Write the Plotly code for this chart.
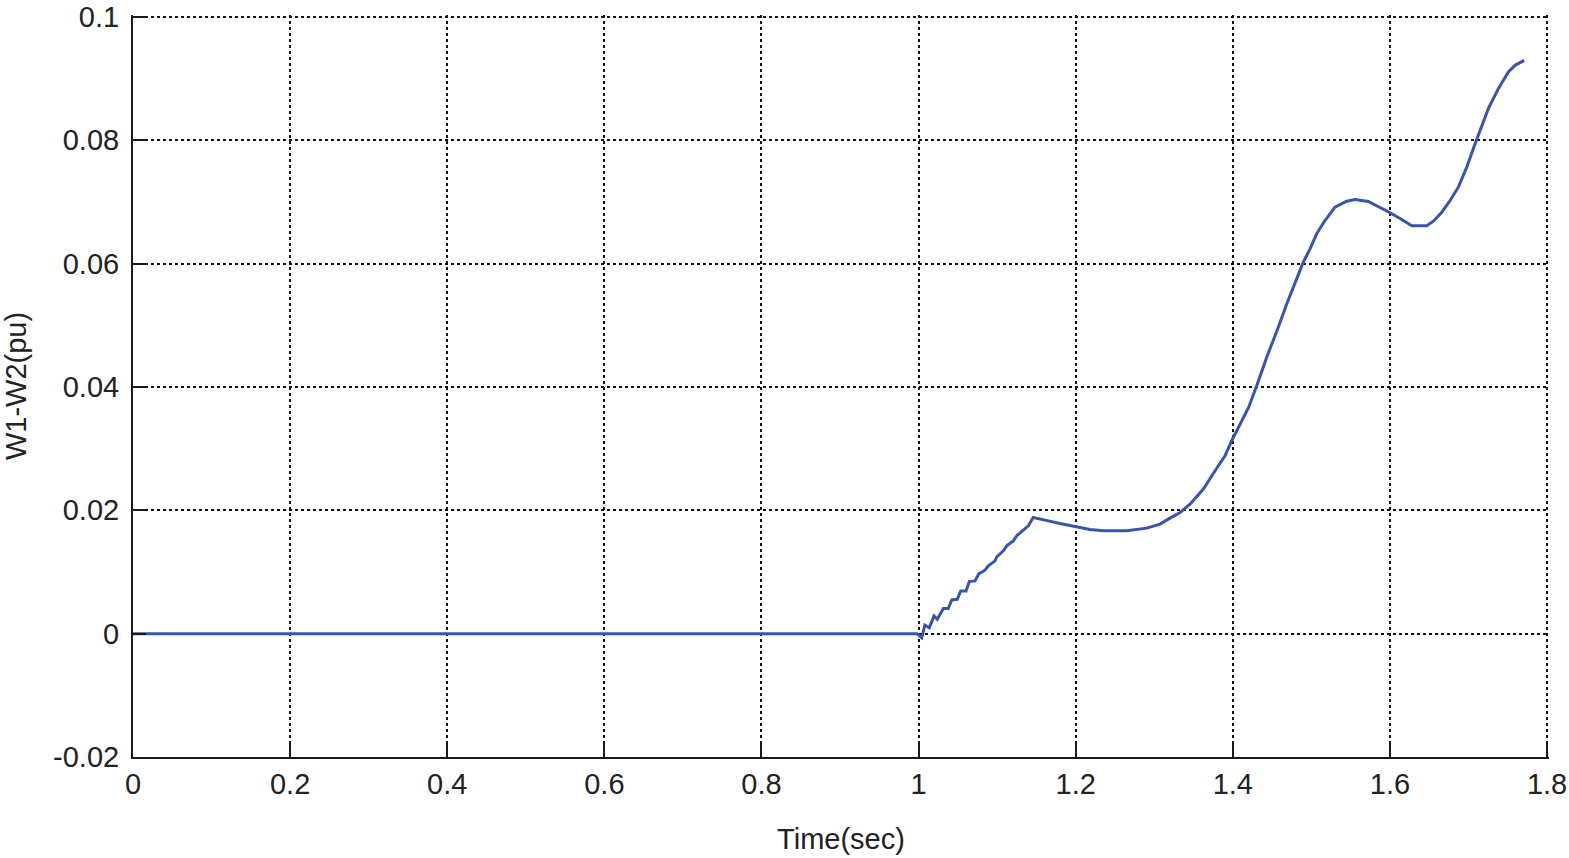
import plotly.graph_objects as go

# flat part, then the response after t = 1 s
t_flat = [0.0, 0.25, 0.5, 0.75, 0.998]
w_flat = [0.0, 0.0, 0.0, 0.0, 0.0]

t_resp = [
    1.004, 1.008, 1.0137, 1.0197, 1.0238, 1.0315, 1.0378, 1.0422, 1.0493,
    1.0536, 1.0604, 1.0646, 1.0718, 1.0769, 1.0846, 1.0888, 1.0973, 1.0995,
    1.1079, 1.1122, 1.1206, 1.1249, 1.1333, 1.1397, 1.146, 1.1504, 1.1609,
    1.18, 1.2013, 1.2182, 1.2352, 1.2649, 1.2904, 1.3073, 1.3201, 1.3328,
    1.3455, 1.3625, 1.3774, 1.3901, 1.3986, 1.4092, 1.4201, 1.4304, 1.4432,
    1.4579, 1.4686, 1.4813, 1.4897, 1.4983, 1.5068, 1.5173, 1.5301, 1.545,
    1.5556, 1.5725, 1.5874, 1.6002, 1.6171, 1.6278, 1.6469, 1.6553, 1.666,
    1.6766, 1.6871, 1.6978, 1.7084, 1.7148, 1.7253, 1.738, 1.7508, 1.7593,
    1.7708,
]
w_resp = [
    -0.00065, 0.00141, 0.00097, 0.00287, 0.00234, 0.00406, 0.00406, 0.00547,
    0.00558, 0.00693, 0.00693, 0.00844, 0.00855, 0.00974, 0.01029, 0.01099,
    0.0118, 0.01245, 0.01343, 0.01424, 0.01505, 0.01586, 0.01679, 0.01748,
    0.01883, 0.01867, 0.01841, 0.01786, 0.01732, 0.01688, 0.01667, 0.01667,
    0.01711, 0.01776, 0.01873, 0.01964, 0.021, 0.02344, 0.02641, 0.02885,
    0.03128, 0.03399, 0.03669, 0.04021, 0.04481, 0.04968, 0.05347, 0.05753,
    0.06023, 0.0624, 0.06484, 0.067, 0.06916, 0.07013, 0.0704, 0.07008,
    0.06916, 0.06825, 0.067, 0.06614, 0.06614, 0.06688, 0.06834, 0.07024,
    0.0724, 0.07565, 0.07945, 0.08161, 0.08513, 0.08838, 0.09107, 0.09216,
    0.09297,
]

x_ticks = [0, 0.2, 0.4, 0.6, 0.8, 1, 1.2, 1.4, 1.6, 1.8]
x_labels = ["0", "0.2", "0.4", "0.6", "0.8", "1", "1.2", "1.4", "1.6", "1.8"]
y_ticks = [-0.02, 0, 0.02, 0.04, 0.06, 0.08, 0.1]
y_labels = ["-0.02", "0", "0.02", "0.04", "0.06", "0.08", "0.1"]

fig = go.Figure()
fig.add_trace(
    go.Scatter(
        x=t_flat + t_resp,
        y=w_flat + w_resp,
        mode="lines",
        line=dict(color="#3a55a8", width=3),
        showlegend=False,
    )
)

axis_common = dict(
    automargin=False,
    ticklabeloverflow="allow",
    showgrid=True,
    gridcolor="#111111",
    griddash="dot",
    gridwidth=1.6,
    zeroline=False,
    showline=True,
    linecolor="#1a1a1a",
    linewidth=2,
    ticks="inside",
    ticklen=13,
    tickwidth=1.5,
    tickcolor="#1a1a1a",
    tickfont=dict(size=29, color="#222222"),
)

# ranges padded a hair so the gridlines at 0.1 and 1.8 still get drawn
fig.update_xaxes(
    range=[0, 1.8025],
    tickvals=x_ticks,
    ticktext=x_labels,
    title=dict(text="Time(sec)", font=dict(size=29, color="#222222"), standoff=30),
    **axis_common,
)
fig.update_yaxes(
    range=[-0.02, 0.10032],
    tickvals=y_ticks,
    ticktext=y_labels,
    ticklabelstandoff=6,
    title=dict(text="W1-W2(pu)", font=dict(size=29, color="#222222"), standoff=30),
    **axis_common,
)

fig.update_layout(
    width=1569,
    height=858,
    margin=dict(l=133, r=20, t=15, b=101),
    paper_bgcolor="white",
    plot_bgcolor="white",
    font=dict(family="Liberation Sans, Arial, sans-serif"),
)

# drop the default 8px body margin so the figure sits at the page corner
fig.write_html(
    "out.html",
    config={"displayModeBar": False},
    post_script="document.body.style.margin='0';document.body.style.overflow='hidden';",
)
